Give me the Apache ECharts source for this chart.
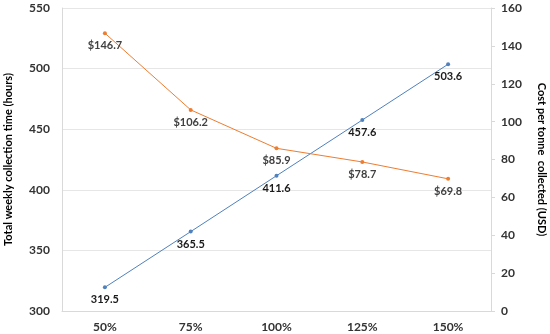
<!DOCTYPE html>
<html><head><meta charset="utf-8">
<script src="https://cdn.jsdelivr.net/npm/echarts@6/dist/echarts.min.js"></script>
<style>html,body{margin:0;padding:0;background:#fff}#c{width:550px;height:334px}</style>
</head><body><div id="c"></div>
<script>
const categories = ['50%', '75%', '100%', '125%', '150%'];
const timeHours = [319.5, 365.5, 411.6, 457.6, 503.6];
const costUSD = [146.7, 106.2, 85.9, 78.7, 69.8];
const leftAxisName = 'Total weekly collection time (hours)';
const rightAxisName = 'Cost per tonne  collected (USD)';

const FONT = 'Lato';
const TXT = '#333333';
const chart = echarts.init(document.getElementById('c'), null, {renderer: 'canvas'});
chart.setOption({
  animation: false,
  backgroundColor: '#fff',
  grid: {left: 62, right: 59, top: 8, bottom: 23, containLabel: false, outerBoundsMode: 'none'},
  xAxis: {
    type: 'category', data: categories, boundaryGap: true,
    axisLine: {lineStyle: {color: '#d9d9d9'}},
    axisTick: {show: false},
    axisLabel: {margin: 10, color: TXT, fontFamily: FONT, fontWeight: 'bold', fontSize: 12}
  },
  yAxis: [{
    type: 'value', min: 300, max: 550, interval: 50,
    name: leftAxisName, nameLocation: 'middle', nameGap: 48,
    nameTextStyle: {color: '#000', fontFamily: FONT, fontWeight: 'bold', fontSize: 11},
    axisLine: {show: true, lineStyle: {color: '#d9d9d9'}},
    axisTick: {show: false},
    splitLine: {lineStyle: {color: '#e6e6e6'}},
    axisLabel: {margin: 12, color: TXT, fontFamily: FONT, fontWeight: 'bold', fontSize: 12}
  }, {
    type: 'value', min: 0, max: 160, interval: 20,
    name: rightAxisName, nameLocation: 'middle', nameGap: 45, nameRotate: -90,
    nameTextStyle: {color: '#000', fontFamily: FONT, fontWeight: 'bold', fontSize: 11},
    axisLine: {show: true, lineStyle: {color: '#d9d9d9'}},
    axisTick: {show: true, length: 4, lineStyle: {color: '#d9d9d9'}},
    splitLine: {show: false},
    axisLabel: {margin: 10, color: TXT, fontFamily: FONT, fontWeight: 'bold', fontSize: 12}
  }],
  series: [{
    type: 'line', yAxisIndex: 0, data: timeHours,
    color: '#4f81bd', lineStyle: {width: 1},
    symbol: 'circle', symbolSize: 4,
    label: {show: true, position: 'bottom', distance: 5, color: '#1a1a1a', fontFamily: FONT, fontWeight: 'bold', fontSize: 11,
      formatter: p => p.value.toFixed(1)}
  }, {
    type: 'line', yAxisIndex: 1, data: costUSD,
    color: '#ED7D31', lineStyle: {width: 1},
    symbol: 'circle', symbolSize: 4,
    label: {show: true, position: 'bottom', distance: 5, color: '#404040', fontFamily: FONT, fontWeight: 'bold', fontSize: 11,
      formatter: p => '$' + p.value.toFixed(1)}
  }]
});
</script></body></html>
